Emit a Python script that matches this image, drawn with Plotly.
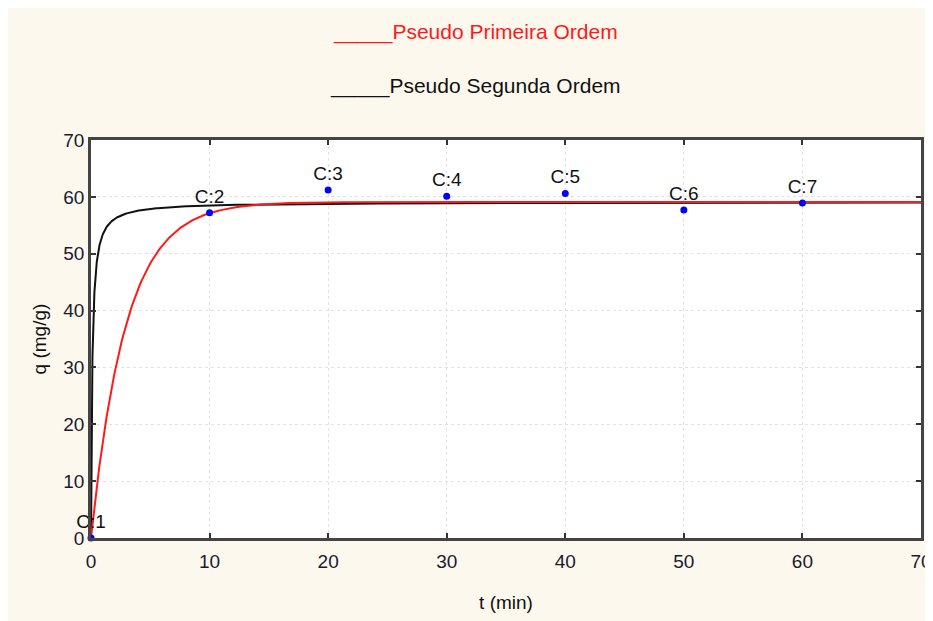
import numpy as np
import plotly.graph_objects as go

# Experimental data
t_exp = [0, 10, 20, 30, 40, 50, 60]
q_exp = [0.0, 57.2, 61.2, 60.1, 60.6, 57.7, 58.9]
labels = ["C:1", "C:2", "C:3", "C:4", "C:5", "C:6", "C:7"]

# Model parameters
qe_1 = 59.1
k_1 = 0.34
qe_2 = 59.1
k_2 = 0.16

x_ticks = [0, 10, 20, 30, 40, 50, 60, 70]
y_ticks = [0, 10, 20, 30, 40, 50, 60, 70]

t_fit = np.concatenate([np.linspace(0, 2, 400), np.linspace(2, 70, 600)])
q_pfo = qe_1 * (1 - np.exp(-k_1 * t_fit))
q_pso = k_2 * qe_2**2 * t_fit / (1 + k_2 * qe_2 * t_fit)

FONT = "Liberation Sans, Arial, Helvetica"

fig = go.Figure()
fig.add_trace(go.Scatter(x=t_fit, y=q_pso, mode="lines",
                         line=dict(color="#111111", width=2), hoverinfo="skip"))
fig.add_trace(go.Scatter(x=t_fit, y=q_pfo, mode="lines",
                         line=dict(color="#ff1a1a", width=2), hoverinfo="skip"))
fig.add_trace(go.Scatter(x=t_exp, y=q_exp, mode="markers+text",
                         marker=dict(color="#0000ff", size=7),
                         text=labels, textposition="top center",
                         textfont=dict(family=FONT, size=19, color="#111"),
                         cliponaxis=False))

axis_common = dict(
    showline=True, linecolor="#444", linewidth=2.5, mirror="ticks",
    ticks="inside", ticklen=5, tickcolor="#333", tickwidth=1.5,
    showgrid=True, gridcolor="#e2e2e2", griddash="dot", gridwidth=1,
    zeroline=False, ticklabeloverflow="allow",
    tickfont=dict(family=FONT, size=19, color="#1a1a2e"),
)

fig.update_layout(
    width=917, height=613,
    margin=dict(l=83, r=1, t=132, b=83),
    paper_bgcolor="#fdf8ee",
    plot_bgcolor="white",
    showlegend=False,
    xaxis=dict(range=[0, 70], tickvals=x_ticks, **axis_common, ticklabelstandoff=4,
               automargin="height",
               title=dict(text="t (min)", standoff=26,
                          font=dict(family=FONT, size=19, color="#111"))),
    yaxis=dict(range=[0, 70], tickvals=y_ticks, **axis_common,
               automargin="width",
               title=dict(text="q (mg/g)", standoff=12,
                          font=dict(family=FONT, size=19, color="#111"))),
    annotations=[
        dict(text="_____Pseudo Primeira Ordem", xref="paper", yref="paper",
             x=0.4634, y=1.272, showarrow=False, xanchor="center", yanchor="middle",
             font=dict(family=FONT, size=21, color="#ff1a1a")),
        dict(text="_____Pseudo Segunda Ordem", xref="paper", yref="paper",
             x=0.4634, y=1.135, showarrow=False, xanchor="center", yanchor="middle",
             font=dict(family=FONT, size=21, color="#111")),
    ],
)

fig.write_html("out.html")
